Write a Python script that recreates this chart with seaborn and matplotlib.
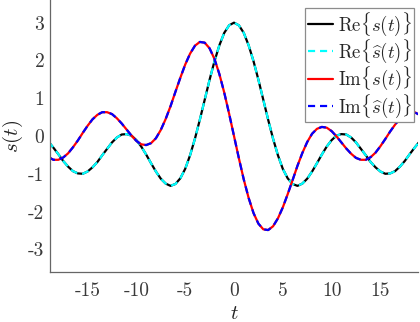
import matplotlib
matplotlib.use("Agg")
import matplotlib.pyplot as plt
import seaborn as sns
import pandas as pd

# sample times (t)
t = [-19.0, -18.5, -18.0, -17.5, -17.0, -16.5, -16.0, -15.5, -15.0, -14.5,
     -14.0, -13.5, -13.0, -12.5, -12.0, -11.5, -11.0, -10.5, -10.0, -9.5,
     -9.0, -8.5, -8.0, -7.5, -7.0, -6.5, -6.0, -5.5, -5.0, -4.5,
     -4.0, -3.5, -3.0, -2.5, -2.0, -1.5, -1.0, -0.5, 0.0, 0.5,
     1.0, 1.5, 2.0, 2.5, 3.0, 3.5, 4.0, 4.5, 5.0, 5.5,
     6.0, 6.5, 7.0, 7.5, 8.0, 8.5, 9.0, 9.5, 10.0, 10.5,
     11.0, 11.5, 12.0, 12.5, 13.0, 13.5, 14.0, 14.5, 15.0, 15.5,
     16.0, 16.5, 17.0, 17.5, 18.0, 18.5, 19.0]

# Re{s(t)}
re_s = [-0.15, -0.31, -0.48, -0.66, -0.81, -0.93, -0.99, -1.00, -0.94, -0.83,
        -0.69, -0.51, -0.34, -0.17, -0.04, 0.04, 0.05, 0.01, -0.11, -0.28,
        -0.49, -0.72, -0.94, -1.13, -1.26, -1.32, -1.27, -1.12, -0.87, -0.51,
        -0.07, 0.43, 0.96, 1.49, 1.98, 2.40, 2.73, 2.93, 3.00, 2.93,
        2.73, 2.40, 1.98, 1.49, 0.96, 0.43, -0.07, -0.51, -0.87, -1.12,
        -1.27, -1.32, -1.26, -1.13, -0.94, -0.72, -0.49, -0.28, -0.11, 0.01,
        0.05, 0.04, -0.04, -0.17, -0.34, -0.51, -0.69, -0.83, -0.94, -1.00,
        -0.99, -0.93, -0.81, -0.66, -0.48, -0.31, -0.15]

# Im{s(t)}
im_s = [-0.56, -0.63, -0.63, -0.57, -0.46, -0.30, -0.12, 0.08, 0.27, 0.44,
        0.56, 0.63, 0.63, 0.58, 0.47, 0.33, 0.17, 0.01, -0.13, -0.22,
        -0.24, -0.19, -0.06, 0.16, 0.45, 0.79, 1.17, 1.54, 1.89, 2.18,
        2.39, 2.49, 2.47, 2.32, 2.04, 1.64, 1.15, 0.59, 0.00, -0.59,
        -1.15, -1.64, -2.04, -2.32, -2.47, -2.49, -2.39, -2.18, -1.89, -1.54,
        -1.17, -0.79, -0.45, -0.16, 0.06, 0.19, 0.24, 0.22, 0.13, -0.01,
        -0.17, -0.33, -0.47, -0.58, -0.63, -0.63, -0.56, -0.44, -0.27, -0.08,
        0.12, 0.30, 0.46, 0.57, 0.63, 0.63, 0.56]

# estimates coincide with the true signal in the picture
re_s_hat = list(re_s)
im_s_hat = list(im_s)

labels = [r"$\mathrm{Re}\{s(t)\}$", r"$\mathrm{Re}\{\widehat{s}(t)\}$",
          r"$\mathrm{Im}\{s(t)\}$", r"$\mathrm{Im}\{\widehat{s}(t)\}$"]
xticks = [-15, -10, -5, 0, 5, 10, 15]
yticks = [-3, -2, -1, 0, 1, 2, 3]

sns.set_style("white")
plt.rcParams["font.family"] = ["cmr10", "DejaVu Serif"]
plt.rcParams["mathtext.fontset"] = "cm"
plt.rcParams["axes.unicode_minus"] = False
plt.rcParams["axes.formatter.use_mathtext"] = True

df = pd.DataFrame({"t": t, "re": re_s, "re_hat": re_s_hat,
                   "im": im_s, "im_hat": im_s_hat})

fig = plt.figure(figsize=(4.2, 3.22), dpi=100)
ax = fig.add_axes([50 / 420, 50 / 322, 368 / 420, 272 / 322])

lw = 1.6
dash = (0, (3.2, 2.2))
sns.lineplot(data=df, x="t", y="re", ax=ax, color="black", lw=lw, label=labels[0])
sns.lineplot(data=df, x="t", y="re_hat", ax=ax, color="#00FFFF", lw=lw,
             linestyle=dash, label=labels[1])
sns.lineplot(data=df, x="t", y="im", ax=ax, color="red", lw=lw, label=labels[2])
sns.lineplot(data=df, x="t", y="im_hat", ax=ax, color="#0000FF", lw=lw,
             linestyle=dash, label=labels[3])

ax.set_xlim(-18.85, 18.85)
ax.set_ylim(-3.6, 3.6)
ax.set_xticks(xticks, labels=[str(v) for v in xticks])
ax.set_yticks(yticks, labels=[str(v) for v in yticks])

axis_col = "#666666"
for side in ["top", "right"]:
    ax.spines[side].set_visible(False)
for side in ["left", "bottom"]:
    ax.spines[side].set_color(axis_col)
    ax.spines[side].set_linewidth(0.9)

ax.tick_params(axis="both", direction="in", length=3.5, width=0.8,
               color=axis_col, labelcolor="#3a3a3a", labelsize=14)
ax.tick_params(axis="x", pad=7)
ax.tick_params(axis="y", pad=4)

ax.set_xlabel(r"$t$", fontsize=15, color="#222222", labelpad=4)
ax.set_ylabel(r"$s(t)$", fontsize=15, color="#222222", labelpad=2)

leg = ax.legend(loc="upper right", bbox_to_anchor=(364 / 368, 1 - 8 / 272),
                borderaxespad=0, fontsize=13.5, frameon=True, fancybox=False,
                handlelength=1.35, handletextpad=0.25, labelspacing=0.0,
                borderpad=0.12)
leg.get_frame().set_edgecolor("#8c8c8c")
leg.get_frame().set_linewidth(0.9)
leg.get_frame().set_facecolor("white")
leg.get_frame().set_alpha(1)

fig.savefig("out.png", dpi=100)
